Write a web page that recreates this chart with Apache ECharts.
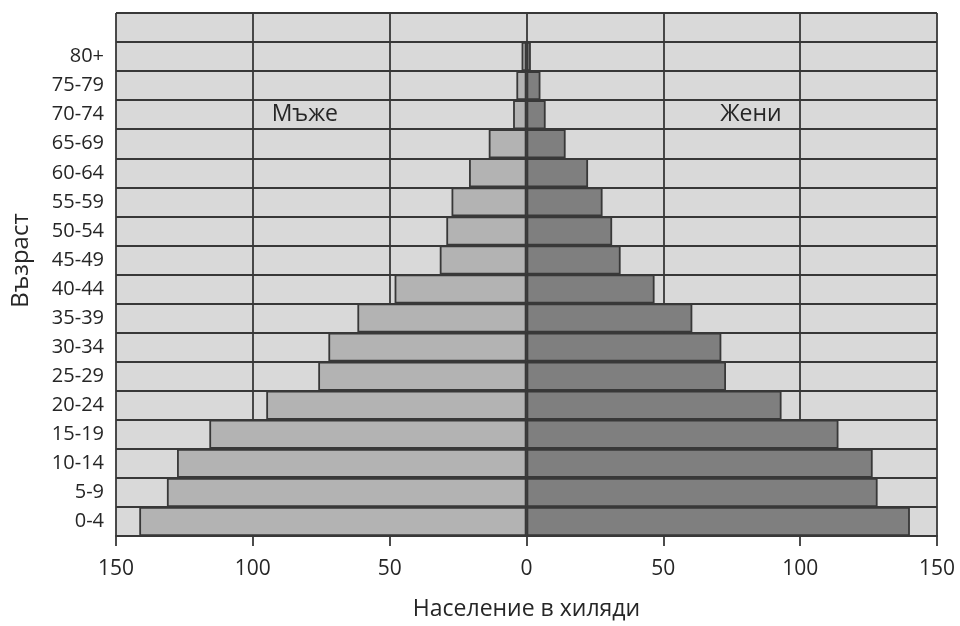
<!DOCTYPE html>
<html>
<head>
<meta charset="utf-8">
<script src="https://cdn.jsdelivr.net/npm/echarts@6/dist/echarts.min.js"></script>
<style>
html,body{margin:0;padding:0;background:#fff;}
#chart{width:960px;height:626px;}
</style>
</head>
<body>
<div id="chart"></div>
<script>
const ageGroups = ['0-4','5-9','10-14','15-19','20-24','25-29','30-34','35-39','40-44','45-49','50-54','55-59','60-64','65-69','70-74','75-79','80+',''];
const males = [141.5, 131.4, 127.7, 115.9, 95.1, 76.1, 72.4, 61.8, 48.2, 31.7, 29.3, 27.4, 21, 13.8, 4.9, 3.7, 1.8, null];
const females = [140.1, 128.3, 126.5, 114, 93.2, 72.9, 71.2, 60.6, 46.8, 34.4, 31.3, 27.8, 22.5, 14.3, 7, 5.1, 1.6, null];
const xTicks = [-150, -100, -50, 0, 50, 100, 150];
const annotations = [
  {text: 'Мъже', x: -81, y: '70-74'},
  {text: 'Жени', x: 82, y: '70-74'}
];

const FONT = '"Open Sans", "Noto Sans", sans-serif';
const LINE = '#383838';
const TEXT = '#262626';
const chart = echarts.init(document.getElementById('chart'));
chart.setOption({
  animation: false,
  backgroundColor: '#ffffff',
  grid: {left: 116, right: 23, top: 13, bottom: 87, containLabel: false},
  xAxis: {
    type: 'value',
    min: xTicks[0], max: xTicks[xTicks.length - 1], interval: 50,
    axisLine: {show: true, lineStyle: {color: LINE, width: 1.8}},
    axisTick: {show: true, length: 10, lineStyle: {color: LINE, width: 1.8}},
    axisLabel: {color: TEXT, fontSize: 21, fontFamily: FONT, margin: 23,
      formatter: v => String(Math.abs(v))},
    splitLine: {show: true, lineStyle: {color: LINE, width: 1.8}},
    name: 'Население в хиляди',
    nameLocation: 'middle', nameGap: 62,
    nameTextStyle: {color: TEXT, fontSize: 23, fontFamily: FONT}
  },
  yAxis: {
    type: 'category',
    data: ageGroups,
    axisLine: {show: false, onZero: false},
    axisTick: {show: false},
    axisLabel: {color: TEXT, fontSize: 20, fontFamily: FONT, margin: 12},
    splitLine: {show: true, interval: 0, lineStyle: {color: LINE, width: 1.8}},
    splitArea: {show: true, interval: 0, areaStyle: {color: ['#d9d9d9']}},
    name: 'Възраст',
    nameLocation: 'middle', nameGap: 83, nameRotate: 90,
    nameTextStyle: {color: TEXT, fontSize: 24, fontFamily: FONT, padding: [0, 0, 0, 28]}
  },
  series: [
    {
      name: 'Мъже', type: 'bar', stack: 'pop',
      data: males.map(v => v == null ? null : -v),
      barCategoryGap: 0,
      itemStyle: {color: '#b3b3b3', borderColor: LINE, borderWidth: 1.8}
    },
    {
      name: 'Жени', type: 'bar', stack: 'pop',
      data: females,
      barCategoryGap: 0,
      itemStyle: {color: '#7f7f7f', borderColor: LINE, borderWidth: 1.8}
    }
  ]
});

chart.setOption({
  graphic: annotations.map(a => {
    const p = chart.convertToPixel({gridIndex: 0}, [a.x, a.y]);
    return {
      type: 'text', x: p[0], y: p[1], z: 100,
      style: {text: a.text, fill: TEXT, fontSize: 23, fontFamily: FONT,
        align: 'center', verticalAlign: 'middle'}
    };
  })
});
</script>
</body>
</html>
